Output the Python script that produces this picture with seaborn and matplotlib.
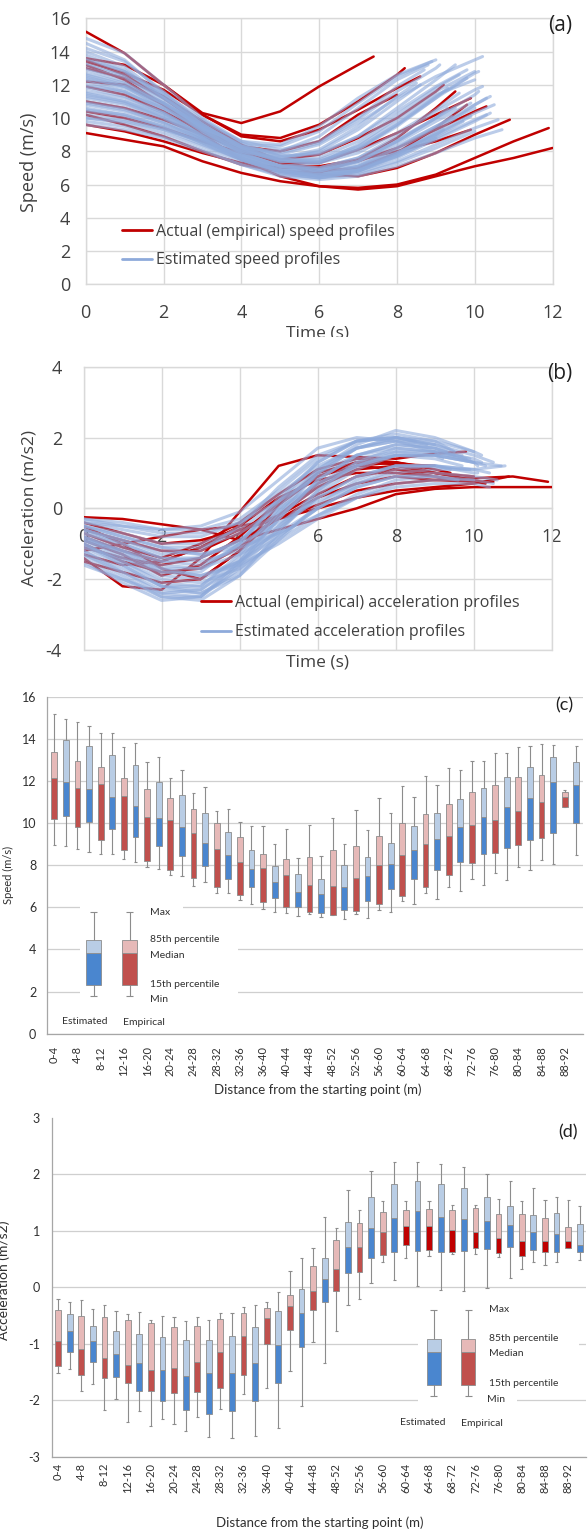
import numpy as np
import pandas as pd
import matplotlib
matplotlib.use("Agg")
import matplotlib.pyplot as plt
from matplotlib.lines import Line2D
from matplotlib.patches import Rectangle
import seaborn as sns

# ---------------------------------------------------------------- data
# Each profile: (end time [s], values at t = 0, 1, 2, ... and at the end time)
SPEED_EMPIRICAL = [
    (7.4, [15.2, 13.9, 12.0, 10.3, 9.7, 10.4, 11.9, 13.2, 13.7]),
    (12.0, [9.1, 8.7, 8.3, 7.4, 6.7, 6.2, 5.9, 5.7, 5.9, 6.5, 7.1, 7.6, 8.2]),
    (11.9, [12.2, 12.0, 10.8, 9.0, 7.5, 6.5, 5.9, 5.8, 6.0, 6.6, 7.6, 8.6, 9.4]),
    (10.9, [13.5, 12.6, 11.2, 9.6, 8.3, 7.3, 6.6, 6.5, 7.0, 7.9, 9.0, 9.9]),
    (10.3, [11.0, 10.6, 9.9, 9.0, 8.1, 7.3, 7.0, 7.4, 8.2, 9.3, 10.4, 10.7]),
    (9.9, [13.2, 12.3, 10.8, 9.2, 8.0, 7.3, 7.3, 8.1, 9.1, 10.2, 11.2]),
    (8.6, [13.4, 12.7, 11.7, 10.2, 8.9, 8.6, 9.3, 10.5, 11.8, 12.5]),
    (8.2, [13.6, 13.2, 12.0, 10.2, 9.0, 8.8, 9.6, 11.0, 12.6, 13.0]),
    (9.2, [10.4, 10.0, 9.4, 8.6, 7.9, 7.5, 7.8, 8.8, 10.0, 11.6, 12.0]),
    (8.0, [11.9, 11.4, 10.4, 9.2, 8.3, 8.0, 8.6, 10.2, 11.4]),
    (9.5, [10.2, 9.6, 8.9, 8.0, 7.2, 6.8, 6.7, 7.5, 8.8, 10.6, 11.6]),
    (9.8, [13.0, 12.4, 11.3, 9.8, 8.4, 7.4, 6.8, 7.0, 7.9, 9.4, 10.8]),
    (9.9, [9.6, 9.2, 8.6, 7.9, 7.3, 7.0, 7.1, 7.5, 8.0, 8.6, 9.3]),
]
SPEED_ESTIMATED = [
    (9.0, [14.8, 13.9, 12.0, 10.0, 8.6, 8.4, 9.5, 11.2, 12.6, 13.5]),
    (10.2, [14.2, 13.4, 11.6, 9.7, 8.3, 7.8, 8.4, 9.7, 11.2, 12.5, 13.5, 13.7]),
    (8.8, [13.8, 12.9, 11.2, 9.4, 8.2, 8.0, 8.9, 10.6, 12.3, 13.2]),
    (9.5, [13.5, 12.8, 11.5, 9.9, 8.5, 7.7, 7.8, 8.9, 10.6, 12.3, 13.2]),
    (10.0, [13.2, 12.5, 11.0, 9.3, 7.9, 7.1, 7.3, 8.4, 10.0, 11.6, 12.8]),
    (9.8, [12.9, 12.2, 10.9, 9.4, 8.1, 7.4, 7.4, 8.2, 9.6, 11.2, 12.4]),
    (10.1, [12.6, 12.0, 10.8, 9.2, 7.8, 7.0, 6.8, 7.4, 8.6, 10.0, 11.4, 11.6]),
    (9.3, [12.4, 11.9, 10.9, 9.6, 8.3, 7.5, 7.4, 8.1, 9.5, 11.2, 11.8]),
    (10.3, [12.2, 11.6, 10.4, 8.9, 7.6, 6.8, 6.6, 7.1, 8.2, 9.5, 10.8, 11.2]),
    (9.6, [12.0, 11.6, 10.6, 9.3, 8.1, 7.4, 7.3, 7.9, 9.1, 10.5, 11.5]),
    (10.5, [11.8, 11.3, 10.3, 8.9, 7.6, 6.8, 6.5, 6.9, 7.9, 9.1, 10.3, 10.8]),
    (9.9, [11.6, 11.2, 10.3, 9.1, 7.9, 7.1, 6.9, 7.4, 8.5, 9.8, 10.9]),
    (8.5, [11.4, 11.0, 10.2, 9.0, 8.0, 7.6, 8.1, 9.5, 11.3, 12.1]),
    (10.0, [11.2, 10.8, 10.0, 8.9, 7.8, 7.1, 6.9, 7.3, 8.3, 9.5, 10.6]),
    (9.4, [11.0, 10.6, 9.8, 8.7, 7.6, 6.9, 6.7, 7.1, 8.1, 9.4, 10.1]),
    (10.4, [10.8, 10.4, 9.7, 8.7, 7.6, 6.8, 6.5, 6.8, 7.6, 8.7, 9.8, 10.3]),
    (9.7, [10.6, 10.2, 9.5, 8.5, 7.5, 6.8, 6.5, 6.9, 7.8, 8.9, 9.8]),
    (10.6, [10.4, 10.1, 9.4, 8.5, 7.5, 6.8, 6.5, 6.7, 7.4, 8.4, 9.4, 9.9]),
    (9.2, [10.2, 9.9, 9.3, 8.4, 7.5, 6.8, 6.6, 7.0, 7.9, 9.0, 9.3]),
    (10.0, [10.0, 9.7, 9.1, 8.3, 7.4, 6.7, 6.4, 6.6, 7.3, 8.2, 9.2]),
    (10.7, [9.8, 9.5, 8.9, 8.1, 7.2, 6.5, 6.3, 6.5, 7.1, 7.9, 8.8, 9.3]),
    (9.0, [9.6, 9.3, 8.8, 8.0, 7.2, 6.6, 6.4, 6.8, 7.7, 8.8]),
    (8.7, [13.0, 12.4, 11.2, 9.8, 8.6, 8.1, 8.6, 10.0, 11.9, 12.9]),
    (9.1, [14.5, 13.5, 11.5, 9.6, 8.3, 7.9, 8.5, 9.9, 11.6, 13.0, 13.2]),
    (10.1, [13.6, 12.8, 11.3, 9.6, 8.2, 7.4, 7.3, 8.1, 9.6, 11.3, 12.7, 12.8]),
    (9.6, [12.7, 12.1, 10.9, 9.5, 8.2, 7.5, 7.6, 8.6, 10.2, 11.8, 12.6]),
    (10.2, [11.9, 11.5, 10.6, 9.3, 8.0, 7.2, 7.0, 7.6, 8.9, 10.4, 11.7, 11.9]),
    (9.5, [11.3, 10.9, 10.0, 8.8, 7.6, 6.9, 6.8, 7.4, 8.6, 10.0, 10.6]),
    (10.3, [10.5, 10.2, 9.5, 8.6, 7.6, 6.9, 6.6, 6.9, 7.7, 8.8, 9.9, 10.2]),
    (8.9, [14.0, 13.1, 11.3, 9.5, 8.4, 8.3, 9.2, 10.9, 12.5, 13.4]),
    (9.8, [12.3, 11.8, 10.8, 9.5, 8.3, 7.7, 7.9, 8.9, 10.4, 11.9, 12.9]),
    (9.3, [10.9, 10.5, 9.7, 8.7, 7.7, 7.1, 7.0, 7.6, 8.7, 10.0, 10.6]),
    (10.0, [13.3, 12.6, 11.2, 9.6, 8.2, 7.5, 7.5, 8.3, 9.8, 11.4, 12.3]),
    (8.6, [12.5, 11.9, 10.6, 9.2, 8.0, 7.5, 8.0, 9.3, 11.0, 12.0]),
    (9.9, [10.0, 9.8, 9.3, 8.6, 7.8, 7.1, 6.8, 7.1, 7.9, 9.0, 10.1]),
    (10.4, [11.5, 11.0, 10.1, 8.8, 7.5, 6.7, 6.4, 6.8, 7.8, 9.2, 10.8, 11.3]),
]

ACCEL_EMPIRICAL = [
    (9.8, [-1.4, -2.2, -2.3, -1.4, -0.1, 1.2, 1.5, 1.45, 1.4, 1.55, 1.6]),
    (12.0, [-0.25, -0.3, -0.45, -0.6, -0.9, -0.6, -0.3, 0.0, 0.4, 0.55, 0.6, 0.6, 0.6]),
    (11.9, [-1.3, -1.6, -1.5, -1.1, -0.6, -0.3, 0.1, 0.5, 0.7, 0.8, 0.85, 0.9, 0.75]),
    (10.3, [-0.9, -1.3, -1.9, -1.6, -0.8, 0.2, 0.9, 1.2, 1.1, 0.9, 0.75, 0.7]),
    (9.0, [-0.5, -1.0, -1.7, -2.0, -1.2, 0.1, 1.0, 1.3, 1.25, 1.2]),
    (9.4, [-0.7, -1.1, -1.4, -1.0, -0.4, 0.4, 1.1, 1.4, 1.3, 1.1, 1.0]),
    (10.0, [-1.0, -1.5, -1.8, -1.7, -1.1, -0.2, 0.6, 1.1, 1.2, 1.0, 0.9]),
    (8.6, [-0.6, -0.9, -1.2, -1.2, -0.7, 0.1, 0.9, 1.3, 1.3, 1.2]),
    (10.5, [-1.1, -1.4, -1.6, -1.4, -0.9, -0.3, 0.3, 0.7, 0.9, 0.8, 0.75, 0.75]),
    (9.6, [-0.4, -0.7, -1.0, -0.9, -0.6, -0.2, 0.4, 0.9, 1.1, 1.0, 0.9]),
    (10.2, [-1.5, -1.8, -2.1, -2.0, -1.2, -0.2, 0.7, 1.2, 1.3, 1.0, 0.8, 0.75]),
    (9.2, [-0.8, -1.2, -1.5, -1.1, -0.5, 0.3, 0.8, 1.0, 1.0, 0.9, 0.85]),
    (10.9, [-1.2, -1.0, -0.8, -0.6, -0.5, -0.3, 0.0, 0.3, 0.5, 0.6, 0.7, 0.9]),
]
ACCEL_ESTIMATED = [
    (10.0, [-0.4, -0.5, -0.6, -0.5, -0.1, 0.8, 1.7, 2.0, 1.9, 1.6, 1.3]),
    (10.5, [-0.6, -0.9, -1.3, -1.2, -0.5, 0.6, 1.5, 1.9, 2.0, 1.8, 1.5, 1.3]),
    (9.5, [-0.8, -1.3, -1.8, -1.8, -1.0, 0.3, 1.3, 1.9, 2.1, 1.9, 1.6]),
    (10.2, [-1.0, -1.5, -2.1, -2.2, -1.4, -0.1, 1.0, 1.7, 2.0, 1.9, 1.6, 1.5]),
    (9.8, [-1.2, -1.8, -2.4, -2.5, -1.6, -0.3, 0.8, 1.5, 1.8, 1.7, 1.4]),
    (10.7, [-0.5, -0.8, -1.1, -1.1, -0.7, 0.0, 0.7, 1.2, 1.5, 1.5, 1.3, 1.2]),
    (9.2, [-0.7, -1.1, -1.5, -1.6, -1.1, -0.2, 0.6, 1.2, 1.5, 1.5, 1.4]),
    (10.3, [-1.4, -2.0, -2.5, -2.5, -1.7, -0.6, 0.4, 1.1, 1.5, 1.5, 1.3, 1.2]),
    (8.8, [-0.3, -0.4, -0.6, -0.6, -0.3, 0.5, 1.4, 1.9, 2.0, 1.8]),
    (9.9, [-0.9, -1.4, -1.9, -2.0, -1.5, -0.6, 0.3, 0.9, 1.2, 1.2, 1.1]),
    (10.1, [-1.1, -1.6, -2.2, -2.4, -1.9, -0.9, 0.1, 0.8, 1.2, 1.2, 1.0, 1.0]),
    (9.4, [-0.6, -1.0, -1.4, -1.5, -1.2, -0.5, 0.3, 0.9, 1.2, 1.2, 1.1]),
    (10.6, [-1.3, -1.8, -2.3, -2.4, -1.8, -0.8, 0.0, 0.6, 0.9, 1.0, 0.9, 0.8]),
    (9.6, [-0.8, -1.2, -1.6, -1.7, -1.3, -0.7, 0.0, 0.6, 0.9, 0.9, 0.8]),
    (10.0, [-1.0, -1.5, -2.0, -2.1, -1.7, -0.9, -0.2, 0.4, 0.8, 0.9, 0.8]),
    (10.4, [-0.5, -0.8, -1.1, -1.3, -1.1, -0.7, -0.2, 0.3, 0.6, 0.7, 0.7, 0.6]),
    (9.0, [-0.4, -0.6, -0.8, -0.8, -0.4, 0.4, 1.2, 1.7, 1.9, 1.8]),
    (9.7, [-1.5, -2.1, -2.6, -2.5, -1.5, -0.2, 1.0, 1.7, 2.0, 1.8, 1.5]),
    (10.2, [-0.7, -1.0, -1.4, -1.4, -0.9, 0.1, 1.0, 1.5, 1.7, 1.6, 1.4, 1.3]),
    (8.5, [-0.9, -1.3, -1.7, -1.7, -1.0, 0.2, 1.3, 1.9, 2.0, 1.9]),
    (9.3, [-1.2, -1.7, -2.2, -2.2, -1.3, 0.0, 1.1, 1.7, 1.9, 1.7, 1.6]),
    (10.8, [-0.6, -0.9, -1.2, -1.3, -1.0, -0.4, 0.2, 0.7, 1.0, 1.1, 1.1, 1.2]),
    (9.9, [-1.6, -2.0, -2.4, -2.3, -1.6, -0.5, 0.5, 1.2, 1.6, 1.6, 1.4]),
    (10.1, [-0.3, -0.5, -0.7, -0.7, -0.4, 0.2, 0.9, 1.4, 1.6, 1.5, 1.3, 1.2]),
    (9.5, [-1.0, -1.6, -2.2, -2.3, -1.5, -0.3, 0.8, 1.5, 1.8, 1.7, 1.5]),
    (10.4, [-0.8, -1.2, -1.7, -1.9, -1.5, -0.8, 0.0, 0.7, 1.1, 1.2, 1.1, 1.0]),
    (9.1, [-1.3, -1.9, -2.5, -2.6, -1.9, -0.7, 0.5, 1.3, 1.7, 1.6, 1.5]),
    (10.0, [-0.5, -0.7, -1.0, -1.0, -0.6, 0.2, 1.1, 1.8, 2.2, 2.0, 1.6]),
    (9.7, [-0.9, -1.2, -1.5, -1.4, -0.9, -0.1, 0.7, 1.3, 1.5, 1.4, 1.2]),
    (10.5, [-1.1, -1.4, -1.8, -1.9, -1.6, -1.0, -0.3, 0.3, 0.7, 0.8, 0.8, 0.7]),
]

DIST_BINS = ["0-4", "4-8", "8-12", "12-16", "16-20", "20-24", "24-28", "28-32",
             "32-36", "36-40", "40-44", "44-48", "48-52", "52-56", "56-60", "60-64",
             "64-68", "68-72", "72-76", "76-80", "80-84", "84-88", "88-92"]

# Panel (c): speed (m/s) per distance bin
SPD_EMP_MAX = [15.17, 14.81, 14.27, 13.61, 12.90, 12.15, 11.41, 10.59, 10.06, 9.84, 9.72, 9.91,
               10.25, 10.60, 11.19, 11.77, 12.22, 12.61, 12.97, 13.32, 13.59, 13.77, 11.55]
SPD_EMP_P85 = [13.39, 12.96, 12.66, 12.14, 11.61, 11.17, 10.65, 9.98, 9.35, 8.53, 8.28, 8.40,
               8.70, 8.92, 9.41, 9.98, 10.43, 10.92, 11.46, 11.80, 12.17, 12.28, 11.47]
SPD_EMP_MED = [12.12, 11.66, 11.87, 11.28, 10.28, 10.14, 9.51, 8.75, 8.16, 7.86, 7.52, 7.06,
               7.03, 7.41, 8.01, 8.48, 9.03, 9.41, 9.89, 10.14, 10.57, 11.00, 11.23]
SPD_EMP_P15 = [10.17, 9.79, 9.21, 8.73, 8.21, 7.77, 7.37, 6.98, 6.58, 6.23, 6.00, 5.76,
               5.65, 5.82, 6.17, 6.55, 6.98, 7.52, 8.09, 8.56, 8.94, 9.28, 10.77]
SPD_EMP_MIN = [8.96, 8.75, 8.53, 8.28, 7.93, 7.53, 7.03, 6.69, 6.33, 5.93, 5.74, 5.66,
               5.65, 5.68, 5.87, 6.30, 6.68, 6.98, 7.33, 7.64, 7.93, 8.27, 10.77]
SPD_EST_MAX = [14.95, 14.62, 14.27, 13.78, 13.16, 12.50, 11.69, 10.65, 9.84, 9.03, 8.35, 8.43,
               9.03, 9.68, 10.46, 11.25, 11.79, 12.52, 12.94, 13.32, 13.66, 13.70, 13.66]
SPD_EST_P85 = [13.94, 13.66, 13.24, 12.74, 11.95, 11.33, 10.46, 9.60, 8.72, 7.97, 7.58, 7.34,
               8.01, 8.39, 9.07, 9.84, 10.46, 11.12, 11.66, 12.17, 12.64, 13.14, 12.88]
SPD_EST_MED = [11.96, 11.60, 11.22, 10.81, 10.22, 9.81, 9.07, 8.47, 7.82, 7.20, 6.72, 6.61,
               6.95, 7.48, 8.07, 8.73, 9.24, 9.79, 10.30, 10.76, 11.20, 11.97, 11.81]
SPD_EST_P15 = [10.35, 10.06, 9.72, 9.32, 8.91, 8.43, 7.96, 7.36, 6.98, 6.44, 6.01, 5.73,
               5.89, 6.31, 6.88, 7.33, 7.75, 8.13, 8.51, 8.83, 9.20, 9.52, 9.98]
SPD_EST_MIN = [8.91, 8.64, 8.51, 8.13, 7.82, 7.47, 7.20, 6.69, 6.15, 5.76, 5.59, 5.55,
               5.43, 5.51, 5.78, 6.17, 6.39, 6.77, 7.07, 7.29, 7.75, 8.05, 8.50]

# Panel (d): acceleration (m/s2) per distance bin
ACC_EMP_MAX = [-0.21, -0.22, -0.31, -0.47, -0.58, -0.53, -0.53, -0.45, -0.35, -0.27, 0.29, 0.69,
               1.04, 1.36, 1.52, 1.53, 1.52, 1.45, 1.45, 1.56, 1.53, 1.54, 1.54]
ACC_EMP_P85 = [-0.41, -0.51, -0.52, -0.58, -0.64, -0.71, -0.68, -0.57, -0.45, -0.37, -0.14, 0.37,
               0.83, 1.14, 1.33, 1.36, 1.38, 1.36, 1.40, 1.29, 1.29, 1.22, 1.06]
ACC_EMP_MED = [-0.96, -1.09, -1.25, -1.37, -1.46, -1.43, -1.33, -1.14, -0.87, -0.55, -0.33, -0.06,
               0.32, 0.72, 0.97, 1.08, 1.08, 1.01, 0.97, 0.87, 0.81, 0.82, 0.82]
ACC_EMP_P15 = [-1.39, -1.55, -1.60, -1.70, -1.83, -1.88, -1.85, -1.78, -1.55, -1.00, -0.75, -0.40,
               -0.06, 0.27, 0.57, 0.75, 0.66, 0.63, 0.70, 0.61, 0.56, 0.62, 0.69]
ACC_EMP_MIN = [-1.52, -1.83, -2.18, -2.39, -2.45, -2.42, -2.30, -2.15, -1.89, -1.79, -1.49, -0.97,
               -0.77, -0.21, 0.44, 0.51, 0.56, 0.59, 0.59, 0.54, 0.32, 0.40, 0.69]
ACC_EST_MAX = [-0.27, -0.39, -0.43, -0.44, -0.51, -0.59, -0.58, -0.46, -0.31, -0.09, 0.51, 1.24,
               1.72, 2.06, 2.21, 2.22, 2.18, 2.12, 2.00, 1.88, 1.76, 1.60, 1.43]
ACC_EST_P85 = [-0.48, -0.68, -0.78, -0.82, -0.88, -0.93, -0.93, -0.87, -0.71, -0.43, -0.04, 0.51,
               1.16, 1.60, 1.82, 1.88, 1.82, 1.75, 1.59, 1.43, 1.28, 1.31, 1.12]
ACC_EST_MED = [-0.77, -0.96, -1.19, -1.34, -1.46, -1.58, -1.52, -1.52, -1.34, -1.02, -0.45, 0.14,
               0.71, 1.04, 1.22, 1.35, 1.24, 1.21, 1.17, 1.10, 0.98, 0.94, 0.75]
ACC_EST_P15 = [-1.15, -1.33, -1.59, -1.83, -2.01, -2.18, -2.25, -2.19, -2.02, -1.69, -1.05, -0.27,
               0.26, 0.52, 0.63, 0.64, 0.63, 0.64, 0.68, 0.71, 0.66, 0.63, 0.62]
ACC_EST_MIN = [-1.44, -1.72, -1.97, -2.19, -2.33, -2.54, -2.66, -2.67, -2.64, -2.49, -2.10, -1.34,
               -0.32, 0.07, 0.12, 0.03, -0.05, -0.06, -0.02, 0.16, 0.44, 0.45, 0.48]

# key boxes drawn inside panels (c) and (d): max, p85, median, p15, min
KEY_SPEED = [5.76, 4.45, 3.81, 2.31, 1.80]
KEY_ACCEL = [-0.41, -0.92, -1.15, -1.73, -1.92]

# ---------------------------------------------------------------- style
RED = "#C00000"
BLUE = "#8EAADB"
GRID = "#D9D9D9"
EMP_DARK, EMP_LIGHT = "#C0504D", "#E6B9B8"
EMP_DARK_D = "#C00000"
EST_DARK, EST_LIGHT = "#4A86CF", "#B9CDE5"
EDGE = "#8C8C8C"
WHISK = "#8C8C8C"

sns.set_theme(style="white")
plt.rcParams["font.family"] = ["Open Sans", "DejaVu Sans"]
plt.rcParams["axes.unicode_minus"] = False

W, H = 588, 1533
fig = plt.figure(figsize=(W / 100, H / 100), dpi=100)


def fx(px):
    return px / W


def fy(py):
    return 1 - py / H


def add_ax(left, right, top, bottom):
    return fig.add_axes([left / W, 1 - bottom / H, (right - left) / W, (bottom - top) / H])


def profiles_df(profiles):
    rows = []
    for pid, (tend, vals) in enumerate(profiles):
        times = list(range(len(vals) - 1)) + [tend]
        for t, v in zip(times, vals):
            rows.append((pid, t, v))
    return pd.DataFrame(rows, columns=["pid", "time", "value"])


def line_panel(ax, est, emp):
    # empirical drawn first, estimated (semi-transparent) on top -> purple where they overlap
    sns.lineplot(data=profiles_df(emp), x="time", y="value", units="pid", estimator=None,
                 sort=False, color=RED, lw=1.8, ax=ax, legend=False,
                 solid_joinstyle="round", solid_capstyle="round", zorder=3)
    sns.lineplot(data=profiles_df(est), x="time", y="value", units="pid", estimator=None,
                 sort=False, color=BLUE, lw=2.2, alpha=0.6, ax=ax, legend=False,
                 solid_joinstyle="round", solid_capstyle="round", zorder=4)
    ax.set_xlim(0, 12)
    ax.set_xticks(range(0, 13, 2))
    ax.grid(True, color=GRID, lw=1.0)
    ax.set_axisbelow(True)
    for s in ax.spines.values():
        s.set_color(GRID)
        s.set_linewidth(1.0)
    ax.set_xlabel("")
    ax.set_ylabel("")


# ---------------- panel (a)
axa = add_ax(85.7, 552.6, 18.3, 284.3)
line_panel(axa, SPEED_ESTIMATED, SPEED_EMPIRICAL)
axa.set_ylim(0, 16)
axa.set_yticks(range(0, 17, 2))
axa.tick_params(axis="both", length=0, labelsize=13, colors="#404040")
axa.tick_params(axis="y", pad=11)
axa.tick_params(axis="x", pad=14)
hand = [Line2D([], [], color=RED, lw=2), Line2D([], [], color=BLUE, lw=2)]
axa.legend(hand, ["Actual (empirical) speed profiles", "Estimated speed profiles"],
           loc="center left", bbox_to_anchor=(fx(122), fy(246)), bbox_transform=fig.transFigure,
           frameon=False, borderpad=0, borderaxespad=0, handlelength=1.9, handletextpad=0.2,
           labelspacing=0.8, fontsize=11.5, labelcolor="#404040")
fig.text(fx(29), fy(162), "Speed (m/s)", rotation=90, ha="center", va="center",
         fontsize=13, color="#404040")
fig.text(fx(560), fy(25), "(a)", ha="center", va="center", fontsize=15, color="#202020")
fig.text(fx(318), fy(334), "Time (s)", ha="center", va="center", fontsize=12.5, color="#404040")
fig.patches.append(Rectangle((0, fy(352)), 1, fy(337.5) - fy(352), transform=fig.transFigure,
                             facecolor="white", edgecolor="none", zorder=10))

# ---------------- panel (b)
axb = add_ax(83.5, 551.9, 366.7, 650)
line_panel(axb, ACCEL_ESTIMATED, ACCEL_EMPIRICAL)
axb.set_ylim(-4, 4)
axb.set_yticks(range(-4, 5, 2))
axb.spines["bottom"].set_position(("data", 0))
axb.axhline(-4, color=GRID, lw=1.0, zorder=1, clip_on=False)
axb.tick_params(axis="both", length=0, labelsize=13, colors="#404040")
axb.tick_params(axis="y", pad=15.5)
axb.tick_params(axis="x", pad=14)
hand = [Line2D([], [], color=RED, lw=2), Line2D([], [], color=BLUE, lw=2)]
axb.legend(hand, ["Actual (empirical) acceleration profiles", "Estimated acceleration profiles"],
           loc="center left", bbox_to_anchor=(fx(201), fy(617.5)), bbox_transform=fig.transFigure,
           frameon=False, borderpad=0, borderaxespad=0, handlelength=1.9, handletextpad=0.25,
           labelspacing=0.85, fontsize=11.5, labelcolor="#404040")
fig.text(fx(30), fy(508), "Acceleration (m/s2)", rotation=90, ha="center", va="center",
         fontsize=12.5, color="#404040")
fig.text(fx(560), fy(373), "(b)", ha="center", va="center", fontsize=15, color="#202020")
fig.text(fx(318), fy(663), "Time (s)", ha="center", va="center", fontsize=12.5, color="#404040")


# ---------------- box panels
def draw_boxes(ax, pos, mx, p85, med, p15, mn, dark, light, width=0.5, cap=0.14):
    pos = np.asarray(pos, dtype=float)
    mx, p85, med, p15, mn = (np.asarray(a, dtype=float) for a in (mx, p85, med, p15, mn))
    ax.vlines(pos, mn, mx, color=WHISK, lw=0.8, zorder=2)
    ax.hlines(mx, pos - cap, pos + cap, color=WHISK, lw=0.8, zorder=2)
    ax.hlines(mn, pos - cap, pos + cap, color=WHISK, lw=0.8, zorder=2)
    ax.bar(pos, med - p15, bottom=p15, width=width, color=dark, edgecolor=EDGE, lw=0.6, zorder=3)
    ax.bar(pos, p85 - med, bottom=med, width=width, color=light, edgecolor=EDGE, lw=0.6, zorder=3)


def box_axes_style(ax, xlim, xpad):
    ax.set_xlim(*xlim)
    n = len(DIST_BINS)
    ax.set_xticks(np.arange(n) * 2)
    ax.set_xticklabels(DIST_BINS, rotation=90)
    ax.set_xticks(np.arange(-0.5, 2 * n, 1.0), minor=True)
    ax.tick_params(axis="x", which="major", length=0, pad=xpad, labelsize=8,
                   labelfontfamily="Lato", colors="#303030")
    ax.tick_params(axis="x", which="minor", length=3, width=0.7, color="#A6A6A6", direction="out")
    ax.tick_params(axis="y", length=0, labelsize=9, labelfontfamily="Lato", colors="#303030")
    ax.grid(True, axis="y", color="#CFCFCF", lw=0.9)
    ax.grid(False, axis="x")
    ax.set_axisbelow(True)
    for side in ("top", "right"):
        ax.spines[side].set_visible(False)
    for side in ("left", "bottom"):
        ax.spines[side].set_color("#A6A6A6")
        ax.spines[side].set_linewidth(0.9)


emp_pos = np.arange(len(DIST_BINS)) * 2
est_pos = emp_pos + 1
TXT = dict(fontfamily="Lato", fontsize=7.5, color="#303030", va="center", ha="left")

# panel (c)
axc = add_ax(47.3, 583.3, 696.7, 1033.7)
box_axes_style(axc, (-0.6, 45.6), 9)
axc.set_ylim(0, 16)
axc.set_yticks(range(0, 17, 2))
axc.tick_params(axis="y", pad=8)
draw_boxes(axc, emp_pos, SPD_EMP_MAX, SPD_EMP_P85, SPD_EMP_MED, SPD_EMP_P15, SPD_EMP_MIN,
           EMP_DARK, EMP_LIGHT)
draw_boxes(axc, est_pos, SPD_EST_MAX, SPD_EST_P85, SPD_EST_MED, SPD_EST_P15, SPD_EST_MIN,
           EST_DARK, EST_LIGHT)
axc.add_patch(Rectangle((2.2, 1.2), 13.6, 4.1, facecolor="white", edgecolor="none", zorder=1.5))
axc.add_patch(Rectangle((2.2, 5.3), 8.9, 1.0, facecolor="white", edgecolor="none", zorder=1.5))
k = KEY_SPEED
draw_boxes(axc, [3.4], [k[0]], [k[1]], [k[2]], [k[3]], [k[4]], EST_DARK, EST_LIGHT, width=1.3, cap=0.3)
draw_boxes(axc, [6.5], [k[0]], [k[1]], [k[2]], [k[3]], [k[4]], EMP_DARK, EMP_LIGHT, width=1.3, cap=0.3)
axc.text(8.25, 5.74, "Max", **TXT)
axc.text(8.25, 4.45, "85th percentile", **TXT)
axc.text(8.25, 3.70, "Median", **TXT)
axc.text(8.25, 2.33, "15th percentile", **TXT)
axc.text(8.25, 1.60, "Min", **TXT)
axc.text(0.64, 0.57, "Estimated", **TXT)
axc.text(5.92, 0.52, "Empirical", **TXT)
fig.text(fx(564), fy(705), "(c)", ha="center", va="center", fontsize=13, fontfamily="Lato",
         color="#202020")
fig.text(fx(8), fy(875), "Speed (m/s)", rotation=90, ha="center", va="center", fontsize=8,
         fontfamily="Lato", color="#303030")
fig.text(fx(318), fy(1090), "Distance from the starting point (m)", ha="center", va="center",
         fontsize=9.5, fontfamily="Lato", color="#303030")

# panel (d)
axd = add_ax(52.3, 586.1, 1117.7, 1456.7)
box_axes_style(axd, (-0.47, 45.55), 4.5)
axd.set_ylim(-3, 3)
axd.set_yticks(range(-3, 4))
axd.tick_params(axis="y", pad=9)
axd.yaxis.get_gridlines()[-1].set_visible(False)
emp_dark_d = [EMP_DARK if i < 15 else EMP_DARK_D for i in range(len(DIST_BINS))]
draw_boxes(axd, emp_pos, ACC_EMP_MAX, ACC_EMP_P85, ACC_EMP_MED, ACC_EMP_P15, ACC_EMP_MIN,
           emp_dark_d, EMP_LIGHT)
draw_boxes(axd, est_pos, ACC_EST_MAX, ACC_EST_P85, ACC_EST_MED, ACC_EST_P15, ACC_EST_MIN,
           EST_DARK, EST_LIGHT)
axd.add_patch(Rectangle((31.06, -1.5), 13.84, 1.25, facecolor="white", edgecolor="none", zorder=1.5))
axd.add_patch(Rectangle((31.06, -2.5), 8.54, 1.0, facecolor="white", edgecolor="none", zorder=1.5))
k = KEY_ACCEL
draw_boxes(axd, [32.4], [k[0]], [k[1]], [k[2]], [k[3]], [k[4]], EST_DARK, EST_LIGHT, width=1.2, cap=0.3)
draw_boxes(axd, [35.4], [k[0]], [k[1]], [k[2]], [k[3]], [k[4]], EMP_DARK, EMP_LIGHT, width=1.2, cap=0.3)
axd.text(37.2, -0.39, "Max", **TXT)
axd.text(37.2, -0.90, "85th percentile", **TXT)
axd.text(37.2, -1.18, "Median", **TXT)
axd.text(37.2, -1.70, "15th percentile", **TXT)
axd.text(37.0, -1.99, "Min", **TXT)
axd.text(29.5, -2.39, "Estimated", **TXT)
axd.text(34.8, -2.41, "Empirical", **TXT)
fig.text(fx(568), fy(1132), "(d)", ha="center", va="center", fontsize=13, fontfamily="Lato",
         color="#202020")
fig.text(fx(4), fy(1280), "Acceleration (m/s2)", rotation=90, ha="center", va="center",
         fontsize=10, fontfamily="Lato", color="#303030")
fig.text(fx(320), fy(1523), "Distance from the starting point (m)", ha="center", va="center",
         fontsize=9.5, fontfamily="Lato", color="#303030")

fig.savefig("out.png", dpi=100, facecolor="white")
